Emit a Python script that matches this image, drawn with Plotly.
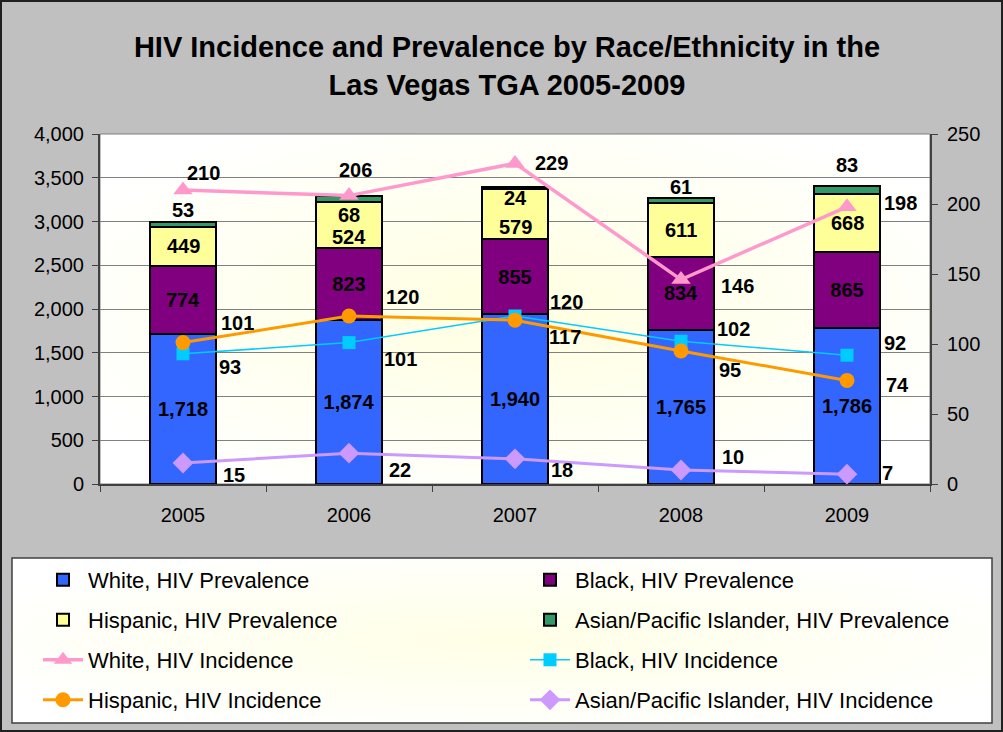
import base64
import plotly.graph_objects as go

years = ["2005", "2006", "2007", "2008", "2009"]

# prevalence (left axis, stacked bars)
white_prev = [1718, 1874, 1940, 1765, 1786]
black_prev = [774, 823, 855, 834, 865]
hisp_prev = [449, 524, 579, 611, 668]
asian_prev = [53, 68, 24, 61, 83]

# incidence (right axis, lines)
white_inc = [210, 206, 229, 146, 198]
black_inc = [93, 101, 120, 102, 92]
hisp_inc = [101, 120, 117, 95, 74]
asian_inc = [15, 22, 18, 10, 7]

FONT = "Liberation Sans, Arial, sans-serif"
W, H = 1003, 732
L, R, T, B = 100, 73, 134, 248
PW, PH = W - L - R, H - T - B


def px_x(x):
    return (x - L) / PW


def px_y(y):
    return (H - B - y) / PH


def gradient_uri(inner):
    svg = (
        '<svg xmlns="http://www.w3.org/2000/svg" width="200" height="100" preserveAspectRatio="none">'
        '<defs><radialGradient id="g" cx="50%" cy="50%" r="60%">'
        f'<stop offset="0%" stop-color="{inner}"/><stop offset="100%" stop-color="#FFFFFF"/>'
        '</radialGradient></defs><rect width="200" height="100" fill="url(#g)"/></svg>'
    )
    return "data:image/svg+xml;base64," + base64.b64encode(svg.encode()).decode()


fig = go.Figure()

# legend slot for each trace: (name of legend, text x px, row y px)
slots = {
    "White, HIV Prevalence": ("legend", 88, 580),
    "Black, HIV Prevalence": ("legend2", 575, 580),
    "Hispanic, HIV Prevalence": ("legend3", 88, 620),
    "Asian/Pacific Islander, HIV Prevalence": ("legend4", 575, 620),
    "White, HIV Incidence": ("legend5", 88, 660),
    "Black, HIV Incidence": ("legend6", 575, 660),
    "Hispanic, HIV Incidence": ("legend7", 88, 700),
    "Asian/Pacific Islander, HIV Incidence": ("legend8", 575, 700),
}

bars = [
    ("White, HIV Prevalence", white_prev, "#3366FF", True),
    ("Black, HIV Prevalence", black_prev, "#800080", True),
    ("Hispanic, HIV Prevalence", hisp_prev, "#FFFF99", False),
    ("Asian/Pacific Islander, HIV Prevalence", asian_prev, "#339966", False),
]
for name, vals, color, show_text in bars:
    fig.add_trace(go.Bar(
        x=years, y=vals, name=name, legend=slots[name][0],
        marker=dict(color=color, line=dict(color="black", width=2)),
        width=0.4,
        texttemplate="<b>%{y:,}</b>" if show_text else None,
        textposition="inside" if show_text else "none",
        insidetextanchor="middle",
        constraintext="none",
        textfont=dict(family=FONT, size=20, color="black"),
        hoverinfo="skip",
    ))

lines = [
    ("White, HIV Incidence", white_inc, "#FF99CC", "triangle-up", 17, 3.5),
    ("Black, HIV Incidence", black_inc, "#00CCFF", "square", 13, 1.5),
    ("Hispanic, HIV Incidence", hisp_inc, "#FF9900", "circle", 15, 3),
    ("Asian/Pacific Islander, HIV Incidence", asian_inc, "#CC99FF", "diamond", 16, 3),
]
for name, vals, color, sym, msize, lw in lines:
    fig.add_trace(go.Scatter(
        x=years, y=vals, name=name, legend=slots[name][0], yaxis="y2",
        mode="lines+markers",
        line=dict(color=color, width=lw),
        marker=dict(symbol=sym, size=msize, color=color),
        hoverinfo="skip",
    ))

label_font = dict(family=FONT, size=20, color="black")

# label offsets (px) for line values, hand-placed like the original
line_offsets = [
    (white_inc, [(20, 17), (6, 26), (36, 0), (56, -6), (53, 4)]),
    (black_inc, [(47, -13), (51, -16), (51, 14), (52, 12), (48, 12)]),
    (hisp_inc, [(54, 20), (53, 19), (50, -17), (49, -19), (50, -5)]),
    (asian_inc, [(51, -12), (51, -17), (47, -11), (52, 13), (40, 1)]),
]
annotations = []
for vals, offs in line_offsets:
    for i, (v, (dx, dy)) in enumerate(zip(vals, offs)):
        annotations.append(dict(
            x=i, y=v, xref="x", yref="y2", text=f"<b>{v}</b>", showarrow=False,
            xshift=dx, yshift=dy, font=label_font,
        ))

# Hispanic labels in the middle of their segment, nudged down where crowded
hisp_shift = [0, -12, -13, 0, 0]
# Asian prevalence labels sit near the top of each stack
asian_shift = [12, -19, -11, 11, 21]
for i in range(len(years)):
    base = white_prev[i] + black_prev[i]
    annotations.append(dict(
        x=i, y=base + hisp_prev[i] / 2, xref="x", yref="y", text=f"<b>{hisp_prev[i]}</b>",
        showarrow=False, yshift=hisp_shift[i], font=label_font,
    ))
    top = base + hisp_prev[i] + asian_prev[i]
    annotations.append(dict(
        x=i, y=top, xref="x", yref="y", text=f"<b>{asian_prev[i]}</b>", showarrow=False,
        yshift=asian_shift[i], font=label_font,
    ))

legends = {}
for name, (lg, tx, ty) in slots.items():
    legends[lg] = dict(
        orientation="h", x=px_x(tx - 50), y=px_y(ty), xanchor="left", yanchor="middle",
        bgcolor="rgba(0,0,0,0)", itemwidth=40,
        font=dict(family=FONT, size=22, color="black"),
    )

fig.update_layout(
    width=W, height=H,
    margin=dict(l=L, r=R, t=T, b=B, autoexpand=False),
    barmode="stack",
    showlegend=True,
    paper_bgcolor="#C0C0C0",
    plot_bgcolor="white",
    font=dict(family=FONT, size=20, color="black"),
    title=dict(
        text="<b>HIV Incidence and Prevalence by Race/Ethnicity in the<br>Las Vegas TGA 2005-2009</b>",
        x=507 / W, xanchor="center", y=1 - 57 / H, yanchor="middle", yref="container",
        font=dict(family=FONT, size=29, color="black"),
    ),
    xaxis=dict(
        type="category", range=[-0.5, 4.5], tickson="boundaries", ticks="outside",
        ticklen=6, tickcolor="#404040", showline=True, linecolor="#404040", linewidth=2,
        showgrid=False, tickfont=dict(size=20), ticklabelstandoff=12,
    ),
    yaxis=dict(
        range=[0, 4000], dtick=500, tickformat=",", ticks="outside", ticklen=6,
        tickcolor="#404040", showline=True, linecolor="#404040", linewidth=2,
        showgrid=True, gridcolor="#808080", gridwidth=1, zeroline=False,
        tickfont=dict(size=20), ticklabelstandoff=4,
    ),
    yaxis2=dict(
        overlaying="y", side="right", range=[0, 250], dtick=50, ticks="outside",
        ticklen=6, tickcolor="#404040", showline=True, linecolor="#404040", linewidth=2,
        showgrid=False, zeroline=False, tickfont=dict(size=20), ticklabelstandoff=5,
    ),
    annotations=annotations,
    images=[
        dict(source=gradient_uri("#FFFFE0"), xref="paper", yref="paper",
             x=0, y=1, sizex=1, sizey=1, sizing="stretch", layer="below"),
        dict(source=gradient_uri("#FFFFE6"), xref="paper", yref="paper",
             x=px_x(12), y=px_y(558), sizex=px_x(992) - px_x(12), sizey=px_y(558) - px_y(723),
             sizing="stretch", layer="below"),
    ],
    shapes=[
        dict(type="rect", xref="paper", yref="paper", x0=0, x1=1, y0=0, y1=1,
             line=dict(color="#808080", width=1), layer="below"),
        dict(type="rect", xref="paper", yref="paper", x0=px_x(12), x1=px_x(992),
             y0=px_y(723), y1=px_y(558), line=dict(color="#404040", width=1.5)),
        dict(type="rect", xref="paper", yref="paper", x0=px_x(1), x1=px_x(1002),
             y0=px_y(731), y1=px_y(1), line=dict(color="#202020", width=2)),
    ],
    **legends,
)

fig.write_html("out.html", config={"displayModeBar": False},
               post_script="document.body.style.margin='0';")
